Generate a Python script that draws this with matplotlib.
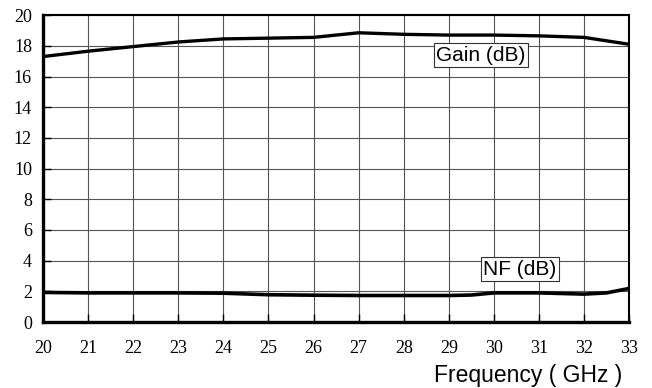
import matplotlib
matplotlib.use("Agg")
import matplotlib.pyplot as plt

freq = [20, 21, 22, 23, 24, 25, 26, 26.5, 27, 28, 29, 30, 31, 32, 33]
gain = [17.3, 17.65, 17.95, 18.25, 18.45, 18.5, 18.55, 18.7, 18.85, 18.75, 18.7, 18.7, 18.65, 18.55, 18.1]
nf_freq = [20, 21, 22, 23, 24, 25, 26, 27, 28, 29, 29.5, 30, 31, 32, 32.5, 33]
nf = [1.93, 1.9, 1.9, 1.9, 1.88, 1.78, 1.75, 1.73, 1.73, 1.73, 1.76, 1.9, 1.9, 1.82, 1.9, 2.19]
xticks = list(range(20, 34))
yticks = list(range(0, 21, 2))

fig = plt.figure(figsize=(6.52, 3.88), dpi=100)
ax = fig.add_axes([0.066, 0.170, 0.899, 0.791])
ax.set_xlim(20, 33)
ax.set_ylim(0, 20)
ax.set_xticks(xticks)
ax.set_yticks(yticks)
ax.grid(True, color="#555555", lw=0.8)
ax.set_axisbelow(True)
ax.plot(freq, gain, color="black", lw=2.4, solid_capstyle="butt")
ax.plot(nf_freq, nf, color="black", lw=2.6, solid_capstyle="butt")

for s in ["left", "bottom"]:
    ax.spines[s].set_linewidth(2.4)
for s in ["top", "right"]:
    ax.spines[s].set_linewidth(1.5)

ax.tick_params(axis="both", direction="in", length=6, width=1, colors="black")
ax.tick_params(axis="x", pad=13)
ax.tick_params(axis="y", pad=8)
for lab in ax.get_xticklabels() + ax.get_yticklabels():
    lab.set_fontfamily("Liberation Serif")
    lab.set_fontsize(13)

box = dict(boxstyle="square,pad=0.12", fc="white", ec="#333333", lw=0.8)
ax.text(29.71, 17.4, "Gain (dB)", family="Liberation Sans", fontsize=15,
        ha="center", va="center", bbox=box)
ax.text(30.58, 3.45, "NF (dB)", family="Liberation Sans", fontsize=15,
        ha="center", va="center", bbox=box)

fig.text(528.5 / 652, 1 - 382 / 388, "Frequency ( GHz )", family="Liberation Sans",
         fontsize=16.5, ha="center", va="baseline")

fig.savefig("out.png", dpi=100)
